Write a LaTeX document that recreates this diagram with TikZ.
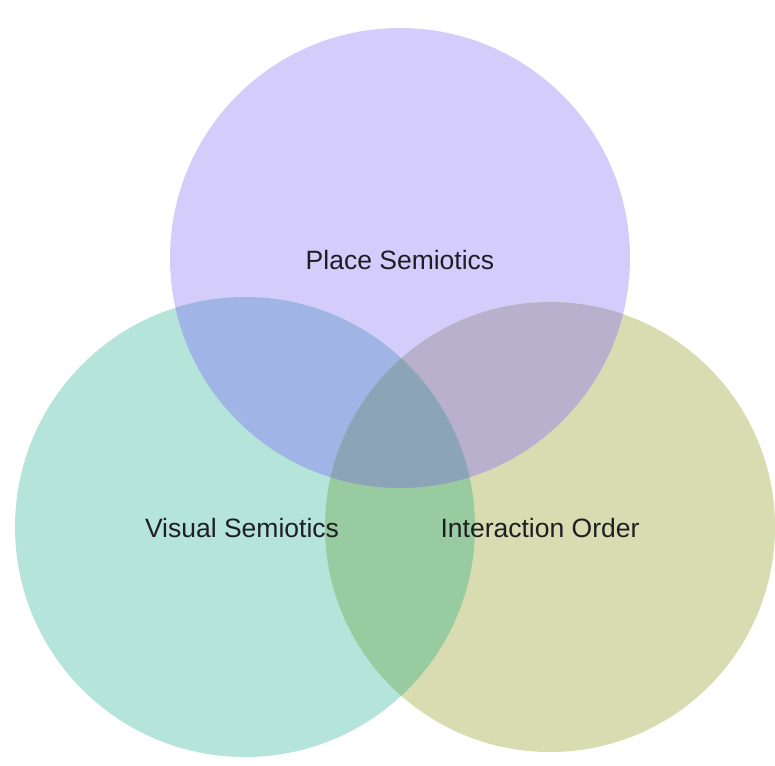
\documentclass[tikz,border=0pt]{standalone}
\usepackage{fontspec}
\setmainfont{Liberation Sans}
\definecolor{cTop}{HTML}{D4CCFA}
\definecolor{cLeft}{HTML}{B4E4DA}
\definecolor{cRight}{HTML}{D8DCB0}
\definecolor{cTL}{HTML}{A0B4E6}
\definecolor{cTR}{HTML}{B8B0CC}
\definecolor{cLR}{HTML}{98CCA0}
\definecolor{cAll}{HTML}{8CA4B8}
\definecolor{ink}{HTML}{1E1E24}
\tikzset{
  label/.style={font=\fontsize{26.5}{30}\selectfont, text=ink, anchor=base, inner sep=0pt},
}
\begin{document}
\begin{tikzpicture}[x=1pt,y=-1pt]
  \useasboundingbox (0,0) rectangle (775,765);
  % circle outlines
  \def\topc{(400,258) circle (230)}
  \def\leftc{(245,527) circle (230)}
  \def\rightc{(550,527) circle (225)}
  % single sets
  \fill[cTop] \topc;
  \fill[cLeft] \leftc;
  \fill[cRight] \rightc;
  % pairwise overlaps
  \begin{scope}
    \clip \topc;
    \fill[cTL] \leftc;
    \fill[cTR] \rightc;
  \end{scope}
  \begin{scope}
    \clip \leftc;
    \fill[cLR] \rightc;
    \clip \rightc;
    \fill[cAll] \topc;
  \end{scope}
  % set labels
  \node[label] (place) at (400,269.5) {Place Semiotics};
  \node[label] (visual) at (242,537.5) {Visual Semiotics};
  \node[label] (interaction) at (540,537.5) {Interaction Order};
\end{tikzpicture}
\end{document}
